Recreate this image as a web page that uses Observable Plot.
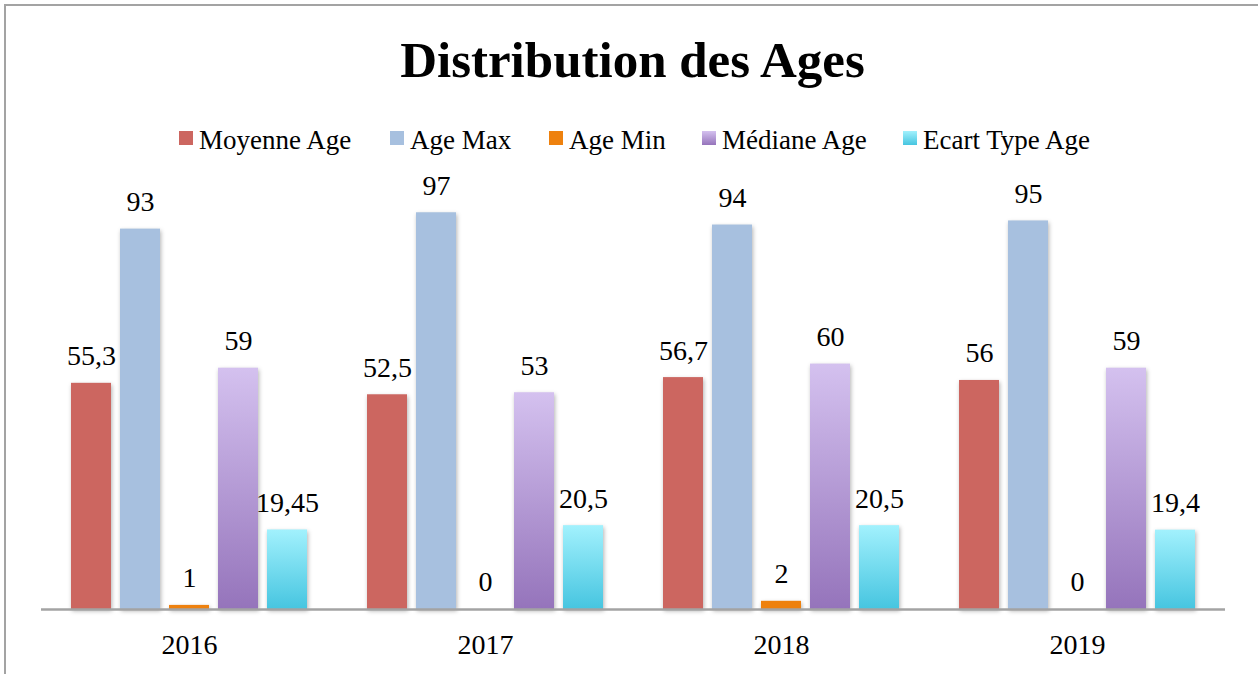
<!DOCTYPE html>
<html><head><meta charset="utf-8">
<script src="https://cdn.jsdelivr.net/npm/d3@7"></script>
<script src="https://cdn.jsdelivr.net/npm/@observablehq/plot@0.6"></script>
<style>
body{margin:0;background:#fff;}
#wrap{position:relative;width:1258px;height:674px;overflow:hidden;font-family:"Liberation Serif",serif;color:#000;background:#fff;}
#frame{position:absolute;left:4px;top:4px;width:1260px;height:680px;border-left:2px solid #a3a3a3;border-top:2px solid #a3a3a3;}
#title{position:absolute;left:0;width:1265px;top:35px;text-align:center;font-weight:bold;font-size:51px;line-height:51px;white-space:nowrap;}
.leg{position:absolute;top:127px;height:27px;display:flex;align-items:flex-start;font-size:27px;line-height:27px;white-space:nowrap;}
.sw{width:14px;height:14px;margin-top:4px;margin-right:6px;flex:none;}
#chart{position:absolute;left:0;top:160px;}
#chart g[aria-label="bar"] rect{filter:drop-shadow(1px 2px 2px rgba(0,0,0,0.3));}
</style></head><body>
<div id="wrap"><div id="frame"></div><div id="title">Distribution des Ages</div><div id="legend"></div><div id="chart"></div></div>
<script>
// ---- data ----
const years = ["2016", "2017", "2018", "2019"];
const series = ["Moyenne Age", "Age Max", "Age Min", "Médiane Age", "Ecart Type Age"];
const moyenneAge = [55.3, 52.5, 56.7, 56];
const ageMax = [93, 97, 94, 95];
const ageMin = [1, 0, 2, 0];
const medianeAge = [59, 53, 60, 59];
const ecartTypeAge = [19.45, 20.5, 20.5, 19.4];

// ---- styles ----
const seriesFills = ["#cc6660", "#a7c0df", "#ee810e", "url(#gMed)", "url(#gEc)"];
const legendSwatch = ["#cc6660", "#a7c0df", "#ee810e",
  "linear-gradient(#d4c1ef,#9574bb)", "linear-gradient(#a2f1fd,#46c5e0)"];
const legendLeft = [179, 390, 549, 702, 903];

const valuesBySeries = [moyenneAge, ageMax, ageMin, medianeAge, ecartTypeAge];
const data = years.flatMap((y, i) => series.map((s, j) => ({year: y, series: s, value: valuesBySeries[j][i]})));
const fillOf = new Map(series.map((s, i) => [s, seriesFills[i]]));
const fmt = v => String(v).replace(".", ",");

// legend
const legend = document.getElementById("legend");
series.forEach((s, i) => {
  const item = document.createElement("div");
  item.className = "leg";
  item.style.left = legendLeft[i] + "px";
  const sw = document.createElement("div");
  sw.className = "sw";
  sw.style.background = legendSwatch[i];
  const t = document.createElement("span");
  t.textContent = s;
  item.appendChild(sw); item.appendChild(t);
  legend.appendChild(item);
});

const chart = Plot.plot({
  width: 1258, height: 514,
  marginLeft: 40, marginRight: 33, marginTop: 40, marginBottom: 65,
  style: {fontFamily: '"Liberation Serif", serif', fontSize: "28px", color: "#000", background: "transparent", overflow: "visible"},
  fx: {domain: years, padding: 0, label: null, tickSize: 0, tickPadding: 25, axis: "bottom"},
  x: {domain: series, paddingInner: 0.19, paddingOuter: 0.585, axis: null},
  y: {domain: [0, 100], axis: null},
  color: {type: "identity"},
  marks: [
    Plot.barY(data, {fx: "year", x: "series", y: "value", fill: d => fillOf.get(d.series)}),
    Plot.ruleY([0], {stroke: "#a3a3a3", strokeWidth: 2.5}),
    Plot.text(data, {fx: "year", x: "series", y: "value", text: d => fmt(d.value), dy: -27, lineAnchor: "middle", fontSize: 28, fill: "#000"})
  ]
});
const ns = "http://www.w3.org/2000/svg";
const defs = document.createElementNS(ns, "defs");
defs.innerHTML = '<linearGradient id="gMed" x1="0" y1="0" x2="0" y2="1"><stop offset="0" stop-color="#d4c1ef"/><stop offset="1" stop-color="#9574bb"/></linearGradient>' +
  '<linearGradient id="gEc" x1="0" y1="0" x2="0" y2="1"><stop offset="0" stop-color="#a2f1fd"/><stop offset="1" stop-color="#46c5e0"/></linearGradient>';
chart.insertBefore(defs, chart.firstChild);
document.getElementById("chart").appendChild(chart);
</script>
</body></html>
